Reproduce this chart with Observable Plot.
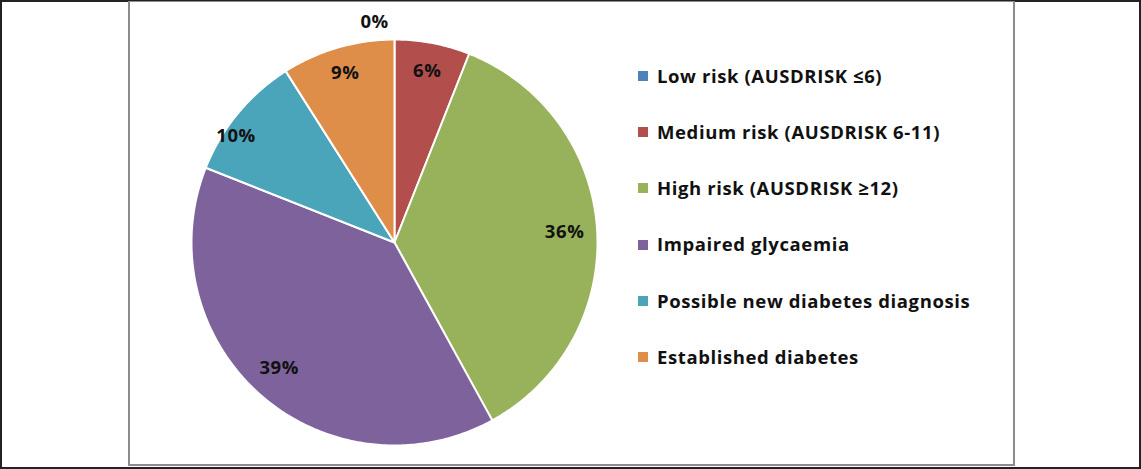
<!DOCTYPE html>
<html>
<head>
<meta charset="utf-8">
<script src="https://cdn.jsdelivr.net/npm/d3@7"></script>
<script src="https://cdn.jsdelivr.net/npm/@observablehq/plot@0.6"></script>
<style>
  html, body { margin: 0; padding: 0; background: #fff; }
  #wrap { position: relative; width: 1141px; height: 469px; overflow: hidden; font-family: "Open Sans", Lato, sans-serif; }
  #outer { position: absolute; left: 0; top: 0; width: 1137px; height: 465px; border: 2px solid #222; box-sizing: content-box; }
  #inner { position: absolute; left: 128px; top: 1px; width: 883px; height: 462px; border: 2px solid #8c8c8c; border-top-width: 1px; }
  #chart { position: absolute; left: 0; top: 0; }
  #legend { position: absolute; left: 638px; top: 48px; }
  .item { display: flex; align-items: center; height: 56.2px; }
  .item .sw { width: 10px; height: 10px; margin-right: 9px; flex: none; }
  .item .lb { font-size: 18.5px; font-weight: 700; color: #111; white-space: nowrap; line-height: 1; letter-spacing: 0.6px; }
</style>
</head>
<body>
<div id="wrap">
  <div id="outer"></div>
  <div id="inner"></div>
  <div id="chart"></div>
  <div id="legend"></div>
</div>
<script>
const categories = [
  "Low risk (AUSDRISK \u22646)",
  "Medium risk (AUSDRISK 6-11)",
  "High risk (AUSDRISK \u226512)",
  "Impaired glycaemia",
  "Possible new diabetes diagnosis",
  "Established diabetes"
];
const values = [0, 6, 36, 39, 10, 9];
const labels = ["0%", "6%", "36%", "39%", "10%", "9%"];
const colors = ["#4F81BD", "#B24F4D", "#97B25A", "#7E629C", "#4AA4BA", "#DF8E49"];

// pie geometry from the data (unit circle)
const arcs = d3.pie().sort(null).value(d => d)(values);
const slices = [];
arcs.forEach((a, i) => {
  const n = Math.max(2, Math.ceil((a.endAngle - a.startAngle) * 80));
  slices.push({cat: categories[i], x: 0, y: 0});
  for (let k = 0; k <= n; k++) {
    const t = a.startAngle + (a.endAngle - a.startAngle) * k / n;
    slices.push({cat: categories[i], x: Math.sin(t), y: Math.cos(t)});
  }
  slices.push({cat: categories[i], x: 0, y: 0});
});
// label placement: radius fraction and angle shift (radians), Excel-like best fit
const labelR = [1.09, 0.86, 0.84, 0.84, 0.94, 0.87];
const labelShift = [-0.09, 0, 0, 0.02, -0.1, 0];
const labelData = arcs.map((a, i) => {
  const m = (a.startAngle + a.endAngle) / 2 + labelShift[i];
  return {x: Math.sin(m) * labelR[i], y: Math.cos(m) * labelR[i], text: labels[i]};
});

const cx = 394, cy = 242, R = 203;
const plot = Plot.plot({
  width: 1141,
  height: 469,
  margin: 0,
  x: {domain: [-1, 1], range: [cx - R, cx + R], axis: null},
  y: {domain: [-1, 1], range: [cy + R, cy - R], axis: null},
  color: {domain: categories, range: colors},
  style: {background: "transparent", overflow: "visible", letterSpacing: "0.6px"},
  marks: [
    Plot.line(slices, {x: "x", y: "y", z: "cat", fill: "cat", stroke: "white", strokeWidth: 2, strokeLinejoin: "round", curve: "linear"}),
    Plot.text(labelData, {x: "x", y: "y", text: "text", fontSize: 18.5, fontWeight: 700, fill: "#111", fontFamily: "'Open Sans', Lato, sans-serif"})
  ]
});
document.getElementById("chart").appendChild(plot);

const leg = document.getElementById("legend");
categories.forEach((c, i) => {
  const it = document.createElement("div");
  it.className = "item";
  it.innerHTML = `<div class="sw" style="background:${colors[i]}"></div><div class="lb">${c}</div>`;
  leg.appendChild(it);
});
</script>
</body>
</html>
